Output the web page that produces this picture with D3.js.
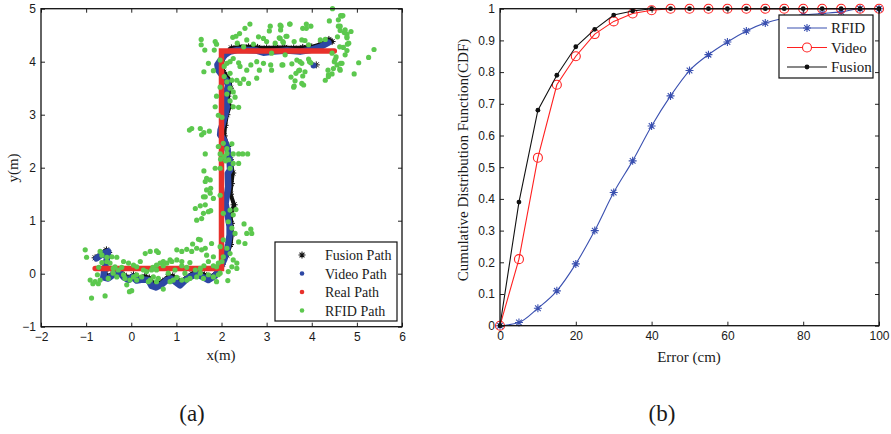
<!DOCTYPE html>
<html>
<head>
<meta charset="utf-8">
<script src="https://cdn.jsdelivr.net/npm/d3@7"></script>
<style>
  body { margin: 0; background: #fff; }
  .tick text { font-family: "Liberation Sans", Arial, sans-serif; font-size: 12px; fill: #1a1a1a; }
  .serif { font-family: "Liberation Serif", "Times New Roman", serif; fill: #1a1a1a; }
</style>
</head>
<body>
<svg id="fig" width="891" height="434"></svg>
<script>
// ---- (a) trajectory data (metres) ----
var realPath = [[-0.8,0.1],[2.0,0.1],[2.0,4.2],[4.5,4.2]];

var videoPath = [[-0.77,0.29],[-0.62,0.38],[-0.51,0.42],[-0.56,0.20],[-0.60,0.04],[-0.62,-0.07],[-0.51,-0.09],
  [-0.38,-0.01],[-0.26,0.02],[-0.16,-0.07],[-0.06,-0.12],[0.03,-0.06],[0.12,-0.13],[0.25,-0.11],[0.38,-0.12],
  [0.45,-0.23],[0.55,-0.26],[0.68,-0.20],[0.79,-0.12],[0.88,-0.09],[0.97,-0.15],[1.08,-0.22],[1.19,-0.13],
  [1.30,-0.06],[1.45,-0.01],[1.60,-0.07],[1.71,-0.12],[1.86,-0.04],[1.98,0.12],[2.06,0.27],[2.12,0.43],
  [2.15,0.57],[2.18,0.73],[2.18,0.89],[2.15,1.04],[2.12,1.17],[2.09,1.33],[2.12,1.48],[2.15,1.64],
  [2.14,1.89],[2.19,1.96],[2.18,2.14],[2.12,2.40],[2.06,2.52],[1.97,2.62],[1.98,2.71],[2.03,2.84],
  [2.08,2.99],[2.12,3.15],[2.08,3.31],[2.12,3.47],[2.15,3.56],[2.10,3.65],[2.01,3.75],[1.93,3.84],
  [1.91,3.94],[1.98,4.03],[2.08,4.13],[2.19,4.19],[2.34,4.22],[2.56,4.22],[2.78,4.21],[2.93,4.17],
  [3.15,4.19],[3.45,4.21],[3.74,4.19],[3.96,4.22],[4.19,4.28],[4.37,4.36]];
var videoStray = [[4.04,3.93]];

var fusionPath = [[-0.80,0.30],[-0.55,0.45],[-0.50,0.40],[-0.58,0.05],[-0.55,-0.05],[-0.40,0.00],[-0.25,0.05],
  [-0.15,-0.03],[-0.05,-0.08],[0.05,-0.02],[0.15,-0.08],[0.30,-0.05],[0.40,-0.08],[0.48,-0.18],[0.58,-0.20],
  [0.70,-0.14],[0.82,-0.06],[0.92,-0.04],[1.02,-0.10],[1.10,-0.16],[1.22,-0.08],[1.35,0.00],[1.48,0.04],
  [1.62,-0.02],[1.75,-0.06],[1.90,0.02],[2.02,0.18],[2.12,0.35],[2.20,0.55],[2.23,0.75],[2.22,0.95],
  [2.20,1.10],[2.28,1.30],[2.20,1.50],[2.22,1.70],[2.25,1.90],[2.20,2.15],[2.14,2.40],[2.06,2.60],
  [2.08,2.80],[2.12,3.00],[2.18,3.15],[2.14,3.35],[2.20,3.50],[2.18,3.65],[2.05,3.80],[2.00,3.95],
  [2.08,4.15],[2.22,4.26],[2.40,4.28],[2.60,4.28],[2.80,4.27],[3.00,4.26],[3.20,4.27],[3.40,4.27],
  [3.60,4.26],[3.80,4.27],[4.00,4.28],[4.20,4.33],[4.38,4.42],[4.45,4.38]];
var fusionStray = [[4.10,3.94]];

var rfidPts = [
  [4.46,5.00],[4.64,4.87],[4.69,4.87],[4.39,4.77],[4.59,4.67],[4.87,4.57],[4.63,4.59],[4.72,4.55],[4.78,4.52],
  [4.57,4.47],[4.78,4.45],[4.79,4.33],[5.38,4.23],[5.26,4.08],[5.04,3.98],[4.94,3.77],[4.70,4.27],[4.74,4.13],
  [4.54,4.09],[4.50,4.00],[4.64,3.97],[4.48,3.87],[4.63,3.84],[4.36,3.84],[4.37,3.75],[4.30,3.65],[4.19,4.41],
  [4.30,4.42],[3.98,4.67],[3.88,4.63],[3.78,4.41],[3.93,4.32],[3.95,4.00],[3.78,3.97],[3.73,3.84],[3.65,3.78],
  [3.80,3.73],[3.52,4.71],[3.32,4.67],[3.31,4.60],[3.08,4.67],[3.06,4.58],[3.43,4.48],[3.28,4.45],[3.36,4.38],
  [3.19,4.35],[3.00,4.38],[2.93,4.44],[2.82,4.47],[3.54,3.71],[3.61,3.54],[3.78,3.59],[3.63,3.64],[3.56,3.96],
  [3.41,4.13],[3.34,3.94],[3.11,3.84],[3.09,3.94],[2.93,3.97],[2.78,4.00],[2.65,3.94],[2.56,3.84],[2.78,3.69],
  [2.84,3.84],[3.11,4.16],[2.63,4.71],[2.52,4.63],[2.40,4.53],[2.32,4.48],[2.25,4.46],[2.56,4.41],[2.71,4.33],
  [2.35,4.35],[2.49,4.28],[1.55,4.42],[1.55,4.32],[1.63,4.22],[1.86,4.38],[1.89,4.33],[1.84,4.22],[1.71,3.97],
  [1.61,3.81],[1.82,3.83],[1.97,4.03],[2.06,3.91],[2.12,3.97],[2.19,4.00],[2.26,4.06],[2.38,3.98],[2.41,3.91],
  [2.19,3.78],[2.06,3.72],[2.12,3.62],[2.23,3.65],[2.34,3.65],[2.41,3.59],[2.49,3.67],[2.60,3.59],[2.19,3.50],
  [2.26,3.43],[2.12,3.39],[2.30,3.33],[2.19,3.26],[2.26,3.15],[2.38,3.14],[1.97,3.52],[1.89,3.35],[1.86,3.15],
  [1.93,2.99],[2.01,2.95],[1.34,2.74],[1.29,2.71],[1.53,2.74],[1.56,2.62],[1.61,2.66],[1.73,2.69],[2.04,2.46],
  [1.93,2.40],[2.12,2.36],[2.23,2.45],[1.64,2.26],[1.97,2.26],[2.12,2.27],[2.06,2.21],[2.26,2.26],[2.38,2.26],
  [2.47,2.26],[2.58,2.26],[1.98,2.16],[2.09,2.13],[2.16,2.15],[2.26,2.08],[2.38,2.08],[1.61,1.94],[1.67,1.80],
  [1.64,1.74],[1.75,1.77],[1.76,1.61],[1.86,1.99],[1.97,1.99],[2.19,1.99],[1.64,1.45],[1.82,1.42],[1.97,1.48],
  [1.67,1.58],[1.75,1.52],[1.60,1.45],[1.42,1.23],[1.53,1.28],[1.64,1.30],[1.71,1.17],[1.76,1.19],[1.60,1.14],
  [1.45,1.01],[1.56,1.04],[2.04,1.14],[2.19,1.20],[2.26,1.11],[2.32,1.21],[2.23,0.86],[2.30,0.76],[2.50,0.94],
  [2.56,0.76],[2.67,0.76],[2.65,0.84],[2.38,0.60],[2.52,0.57],[2.15,0.98],[2.04,0.64],[1.97,0.51],[2.12,0.48],
  [2.19,0.38],[2.26,0.26],[2.34,0.20],[2.23,0.13],[2.15,0.04],[2.34,0.10],[2.04,0.32],[2.01,0.23],[1.89,0.13],
  [1.97,0.01],[1.82,-0.06],[1.89,-0.15],[1.93,-0.02],[2.14,-0.13],[1.78,0.57],[1.64,0.48],[1.67,0.35],[1.56,0.45],
  [1.45,0.48],[1.53,0.64],[1.49,0.65],[1.36,0.56],[1.23,0.46],[1.12,0.42],[1.01,0.45],[1.34,0.42],[1.82,0.32],
  [1.71,0.23],[1.61,0.15],[1.53,0.10],[1.42,0.07],[1.30,0.21],[1.23,0.12],[1.12,0.23],[1.01,0.26],[0.90,0.23],
  [0.79,0.20],[0.71,0.23],[0.64,0.20],[0.56,0.16],[0.48,0.12],[1.53,0.01],[1.45,-0.06],[1.30,-0.09],[1.12,-0.12],
  [1.01,-0.07],[0.93,-0.12],[0.86,-0.15],[1.19,0.01],[0.97,0.07],[0.71,-0.29],[0.42,-0.12],[0.49,-0.06],[0.56,-0.15],
  [0.34,0.04],[0.45,0.07],[0.31,0.38],[0.42,0.42],[0.56,0.43],[0.60,0.40],[0.20,0.23],[0.12,0.13],[0.05,0.16],
  [-0.06,0.20],[-0.17,0.23],[-0.21,0.12],[-0.29,0.07],[-0.40,0.10],[-0.47,0.20],[-0.54,0.23],[-0.65,0.21],
  [-0.72,0.12],[-0.75,-0.02],[-0.69,-0.12],[-0.73,-0.19],[-0.80,-0.15],[-0.91,-0.12],[-0.85,-0.19],[-0.32,-0.06],
  [-0.14,-0.09],[-0.03,-0.12],[0.01,-0.32],[-0.04,-0.34],[0.12,-0.12],[0.05,-0.06],[-0.10,-0.21],[-0.17,-0.02],
  [0.12,-0.02],[-1.02,0.45],[-0.99,0.31],[-0.69,0.42],[-0.65,0.35],[-0.54,0.31],[-0.43,0.32],[-0.32,0.31],
  [-0.36,0.13],[-0.88,-0.46],[-0.58,-0.42],[-0.40,0.01],[-0.51,-0.09],[0.27,0.07],[0.23,-0.06],[0.38,-0.15],
  [0.60,-0.09],[0.82,0.01],[1.23,-0.12],[1.71,-0.02],[1.60,-0.09],[1.82,0.15],[1.93,0.20],[1.12,0.15],[0.86,0.26],
  [0.71,0.15],[0.56,0.07],[4.37,3.72],[4.45,3.77],[4.56,3.94],[4.67,3.97],[4.62,3.86],[3.82,3.56],[3.60,3.52],
  [4.82,4.35],[4.78,4.47],[4.74,4.60],[4.63,4.67],[4.59,4.79],[4.67,4.86],[3.30,4.69],[3.51,4.71],[3.88,4.71],
  [3.80,4.63],[3.30,4.44],[3.45,4.48],[3.37,4.36],[3.61,4.38],[3.85,4.40],[3.36,3.94],[3.67,4.03],[3.74,4.00],
  [3.93,4.05],[3.98,3.98],[3.85,3.81],[3.71,3.83],[4.45,4.16],[4.52,4.04],[4.78,4.21],[4.62,4.28]];

var xTicksA = [-2,-1,0,1,2,3,4,5,6];
var yTicksA = [-1,0,1,2,3,4,5];
var legendA = ["Fusion Path","Video Path","Real Path","RFID Path"];

// ---- (b) CDF data ----
var errorCm = [0,5,10,15,20,25,30,35,40,45,50,55,60,65,70,75,80,85,90,95,100];
var cdfRfid   = [0,0.01,0.055,0.11,0.195,0.30,0.42,0.52,0.63,0.725,0.805,0.855,0.895,0.93,0.955,0.97,0.98,0.985,0.99,1,1];
var cdfVideo  = [0,0.21,0.53,0.76,0.85,0.92,0.96,0.985,0.995,1,1,1,1,1,1,1,1,1,1,1,1];
var cdfFusion = [0,0.39,0.68,0.79,0.88,0.935,0.98,0.993,1,1,1,1,1,1,1,1,1,1,1,1,1];
var xTicksB = [0,20,40,60,80,100];
var yTicksB = [0,0.1,0.2,0.3,0.4,0.5,0.6,0.7,0.8,0.9,1];
var legendB = ["RFID","Video","Fusion"];

var cGreen = "#5cc84e", cBlue = "#2d47a4", cRed = "#e8312b";
var cLineBlue = "#3a50b0", cLineRed = "#ff2020";

var svg = d3.select("#fig");
svg.append("rect").attr("width", 891).attr("height", 434).attr("fill", "#fff");

function starPath(s) {
  var d = s * 0.7071;
  return "M" + (-s) + ",0L" + s + ",0M0," + (-s) + "L0," + s +
         "M" + (-d) + "," + (-d) + "L" + d + "," + d + "M" + (-d) + "," + d + "L" + d + "," + (-d);
}

function drawBox(g, x, y, xt, yt, yfmt) {
  var r = x.range(), b = y.range();
  g.append("g").attr("transform", "translate(0," + b[0] + ")")
    .call(d3.axisBottom(x).tickValues(xt).tickSizeInner(-4).tickSizeOuter(0).tickPadding(6));
  g.append("g").attr("transform", "translate(0," + b[1] + ")")
    .call(d3.axisTop(x).tickValues(xt).tickSizeInner(-4).tickSizeOuter(0).tickFormat(""));
  g.append("g").attr("transform", "translate(" + r[0] + ",0)")
    .call(d3.axisLeft(y).tickValues(yt).tickSizeInner(-4).tickSizeOuter(0).tickPadding(5).tickFormat(yfmt));
  g.append("g").attr("transform", "translate(" + r[1] + ",0)")
    .call(d3.axisRight(y).tickValues(yt).tickSizeInner(-4).tickSizeOuter(0).tickFormat(""));
  g.selectAll(".domain").remove();
  g.selectAll(".tick line").attr("stroke", "#222");
  g.append("rect").attr("x", r[0]).attr("y", b[1])
    .attr("width", r[1] - r[0]).attr("height", b[0] - b[1])
    .attr("fill", "none").attr("stroke", "#111").attr("stroke-width", 1.3);
}

// ================= (a) =================
var xa = d3.scaleLinear().domain([-2, 6]).range([41, 402]);
var ya = d3.scaleLinear().domain([-1, 5]).range([326.7, 8.7]);
var ga = svg.append("g");

var lineA = d3.line().x(function(d) { return xa(d[0]); }).y(function(d) { return ya(d[1]); });

// fusion (black stars)
ga.append("path").attr("d", lineA(fusionPath)).attr("fill", "none")
  .attr("stroke", "#111").attr("stroke-width", 4).attr("stroke-linejoin", "round").attr("stroke-linecap", "round");
ga.selectAll(".fstar").data(fusionPath.concat(fusionStray)).enter().append("path")
  .attr("transform", function(d) { return "translate(" + xa(d[0]) + "," + ya(d[1]) + ")"; })
  .attr("d", starPath(3.5)).attr("stroke", "#111").attr("stroke-width", 1).attr("fill", "none");

// video (blue)
ga.append("path").attr("d", lineA(videoPath)).attr("fill", "none")
  .attr("stroke", cBlue).attr("stroke-width", 6.5).attr("stroke-linejoin", "round").attr("stroke-linecap", "round");
ga.selectAll(".vdot").data(videoStray).enter().append("circle")
  .attr("cx", function(d) { return xa(d[0]); }).attr("cy", function(d) { return ya(d[1]); })
  .attr("r", 3).attr("fill", cBlue);

// real (red)
ga.append("path").attr("d", lineA(realPath)).attr("fill", "none")
  .attr("stroke", cRed).attr("stroke-width", 5.5).attr("stroke-linejoin", "miter").attr("stroke-linecap", "round");

// rfid (green)
ga.selectAll(".gdot").data(rfidPts).enter().append("circle")
  .attr("cx", function(d) { return xa(d[0]); }).attr("cy", function(d) { return ya(d[1]); })
  .attr("r", 2.6).attr("fill", cGreen);

drawBox(ga, xa, ya, xTicksA, yTicksA, d3.format("d"));

ga.append("text").attr("class", "serif").attr("x", 221).attr("y", 360)
  .attr("text-anchor", "middle").style("font-size", "15px").text("x(m)");
ga.append("text").attr("class", "serif")
  .attr("transform", "translate(18,168)rotate(-90)")
  .attr("text-anchor", "middle").style("font-size", "15px").text("y(m)");

// legend (a)
var lga = ga.append("g");
lga.append("rect").attr("x", 275).attr("y", 242).attr("width", 122).attr("height", 79)
  .attr("fill", "#fff").attr("stroke", "#111").attr("stroke-width", 1.2);
var legColA = [null, cBlue, cRed, cGreen];
legendA.forEach(function(name, i) {
  var yy = 255 + i * 18.5;
  if (i === 0) {
    lga.append("path").attr("transform", "translate(302," + yy + ")")
      .attr("d", starPath(3.5)).attr("stroke", "#111").attr("stroke-width", 1.1);
  } else {
    lga.append("circle").attr("cx", 302).attr("cy", yy).attr("r", 2.3).attr("fill", legColA[i]);
  }
  lga.append("text").attr("class", "serif").attr("x", 325).attr("y", yy + 5)
    .style("font-size", "14px").text(name);
});

// ================= (b) =================
var xb = d3.scaleLinear().domain([0, 100]).range([500, 879]);
var yb = d3.scaleLinear().domain([0, 1]).range([325.7, 8.7]);
var gb = svg.append("g");

function series(vals) { return errorCm.map(function(e, i) { return [e, vals[i]]; }); }
var lineB = d3.line().x(function(d) { return xb(d[0]); }).y(function(d) { return yb(d[1]); });

// RFID
gb.append("path").attr("d", lineB.curve(d3.curveMonotoneX)(series(cdfRfid)))
  .attr("fill", "none").attr("stroke", cLineBlue).attr("stroke-width", 1.1);
lineB.curve(d3.curveLinear);
gb.selectAll(".rstar").data(series(cdfRfid)).enter().append("path")
  .attr("transform", function(d) { return "translate(" + xb(d[0]) + "," + yb(d[1]) + ")"; })
  .attr("d", starPath(4)).attr("stroke", cLineBlue).attr("stroke-width", 1.1).attr("fill", "none");

// Video
gb.append("path").attr("d", lineB(series(cdfVideo)))
  .attr("fill", "none").attr("stroke", cLineRed).attr("stroke-width", 1.1);
gb.selectAll(".vcirc").data(series(cdfVideo)).enter().append("circle")
  .attr("cx", function(d) { return xb(d[0]); }).attr("cy", function(d) { return yb(d[1]); })
  .attr("r", 4.5).attr("fill", "none").attr("stroke", cLineRed).attr("stroke-width", 1.1);

// Fusion
gb.append("path").attr("d", lineB(series(cdfFusion)))
  .attr("fill", "none").attr("stroke", "#111").attr("stroke-width", 1.1);
gb.selectAll(".fdot").data(series(cdfFusion)).enter().append("circle")
  .attr("cx", function(d) { return xb(d[0]); }).attr("cy", function(d) { return yb(d[1]); })
  .attr("r", 2.4).attr("fill", "#111");

drawBox(gb, xb, yb, xTicksB, yTicksB, function(d) { return d3.format("~g")(d); });

gb.append("text").attr("class", "serif").attr("x", 689).attr("y", 362)
  .attr("text-anchor", "middle").style("font-size", "15px").text("Error (cm)");
gb.append("text").attr("class", "serif")
  .attr("transform", "translate(468,160)rotate(-90)")
  .attr("text-anchor", "middle").style("font-size", "15px").text("Cumulative Distribution Function(CDF)");

// legend (b)
var lgb = gb.append("g");
lgb.append("rect").attr("x", 779).attr("y", 15).attr("width", 94).attr("height", 63)
  .attr("fill", "#fff").attr("stroke", "#111").attr("stroke-width", 1.2);
var legColB = [cLineBlue, cLineRed, "#111"];
legendB.forEach(function(name, i) {
  var yy = 28 + i * 19.5;
  lgb.append("line").attr("x1", 787).attr("x2", 827).attr("y1", yy).attr("y2", yy)
    .attr("stroke", legColB[i]).attr("stroke-width", 1.1);
  if (i === 0) {
    lgb.append("path").attr("transform", "translate(807," + yy + ")")
      .attr("d", starPath(4)).attr("stroke", cLineBlue).attr("stroke-width", 1.1);
  } else if (i === 1) {
    lgb.append("circle").attr("cx", 807).attr("cy", yy).attr("r", 4.5)
      .attr("fill", "#fff").attr("stroke", cLineRed).attr("stroke-width", 1.1);
  } else {
    lgb.append("circle").attr("cx", 807).attr("cy", yy).attr("r", 2.4).attr("fill", "#111");
  }
  lgb.append("text").attr("class", "serif").attr("x", 831).attr("y", yy + 5)
    .style("font-size", "15px").text(name);
});

// captions
svg.append("text").attr("class", "serif").attr("x", 192).attr("y", 421)
  .attr("text-anchor", "middle").style("font-size", "23px").text("(a)");
svg.append("text").attr("class", "serif").attr("x", 662).attr("y", 421)
  .attr("text-anchor", "middle").style("font-size", "23px").text("(b)");
</script>
</body>
</html>
